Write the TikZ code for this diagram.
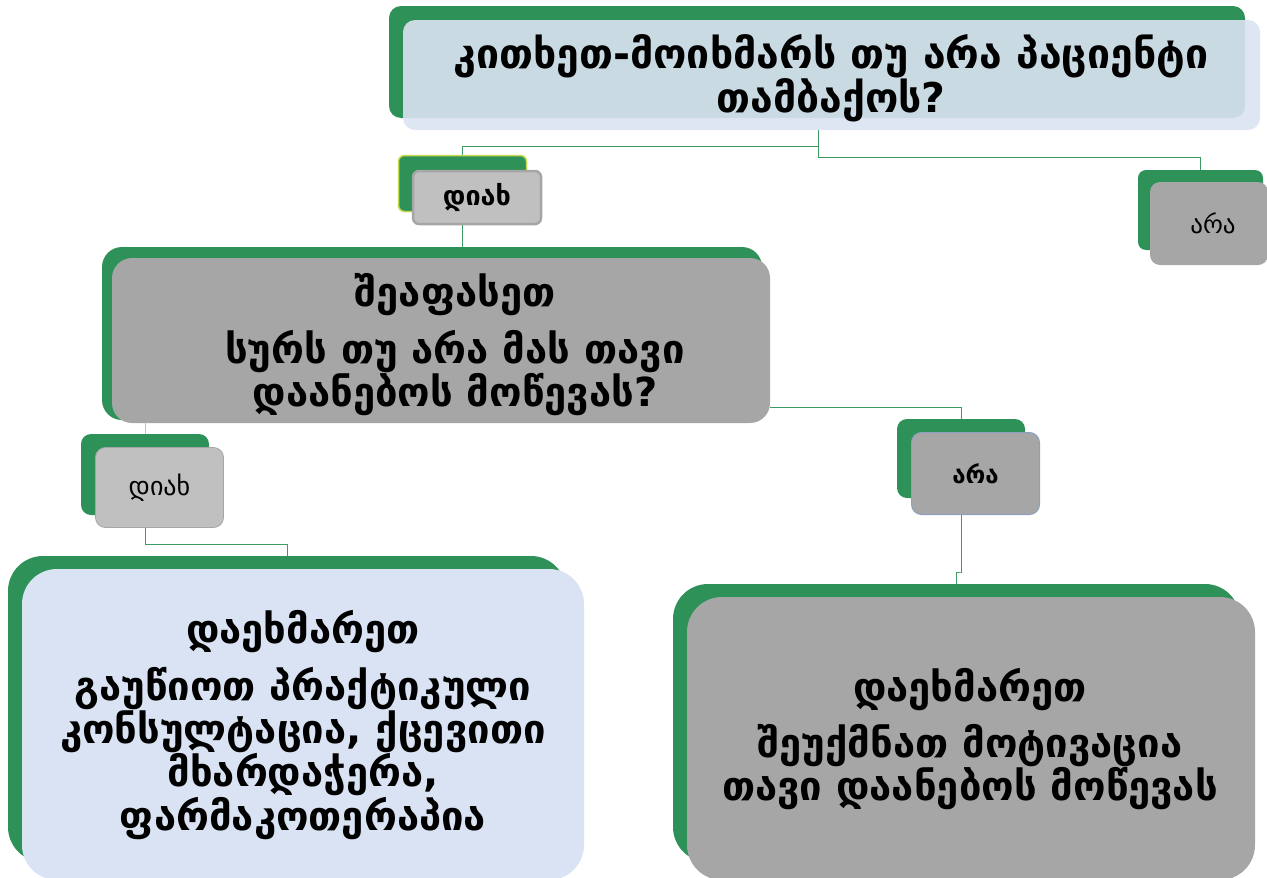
\documentclass[tikz,border=0pt]{standalone}
\usepackage{fontspec}
\setmainfont{DejaVu Sans}
\definecolor{G}{HTML}{2E9157}
\definecolor{LB}{HTML}{DCE3F2}
\definecolor{LB2}{HTML}{DAE3F3}
\definecolor{GR}{HTML}{A6A6A6}
\definecolor{LG}{HTML}{C0C0C0}
\definecolor{CN}{HTML}{3E9A62}
\definecolor{YL}{HTML}{C8D850}
\definecolor{BG}{HTML}{8EA0C0}
\begin{document}
\begin{tikzpicture}[x=1pt,y=-1pt,
  back/.style={fill=G,draw=none,inner sep=0pt},
  frontbox/.style={draw=none,inner sep=0pt,align=center,text=black},
  conn/.style={draw=CN,line width=0.9pt},
  big/.style={font=\fontsize{40}{38.5}\selectfont\bfseries}
]
\useasboundingbox (0,0) rectangle (1267,878);
% coordinates for connector joints
\coordinate (j1) at (818,146);
\coordinate (j2) at (818,157);
\coordinate (j3) at (770,407);
\coordinate (j4) at (962,572);
\coordinate (j5) at (145,544);

% top box
\node[back,rounded corners=12pt,minimum width=856pt,minimum height=112pt] (topb) at (817,62) {};
\node[frontbox,fill=LB,fill opacity=0.9,text opacity=1,rounded corners=12pt,minimum width=857pt,minimum height=110pt] (topf) at (831.5,75) {};
\node[align=center,font=\fontsize{41}{43}\selectfont\bfseries] (topt) at (831,78) {კითხეთ-მოიხმარს თუ არა პაციენტი\\თამბაქოს?};

% yes 1
\node[back,draw=YL,line width=1.5pt,rounded corners=6pt,minimum width=128pt,minimum height=56pt] (yes1b) at (462.5,183.5) {};
\node[frontbox,fill=LG,draw=GR,line width=2.5pt,rounded corners=6pt,minimum width=128pt,minimum height=53pt,font=\fontsize{27}{30}\selectfont\bfseries] (yes1f) at (477,197.5) {დიახ};

% no 1
\node[back,rounded corners=8pt,minimum width=125pt,minimum height=80pt] (no1b) at (1200.5,210) {};
\node[frontbox,fill=GR,rounded corners=10pt,minimum width=118pt,minimum height=83pt,font=\fontsize{25}{30}\selectfont] (no1f) at (1209,223.5) {\hspace*{8pt}არა};

% middle
\node[back,rounded corners=20pt,minimum width=660pt,minimum height=173pt] (midb) at (432,333.5) {};
\node[frontbox,fill=GR,rounded corners=20pt,minimum width=658pt,minimum height=165pt] (midf) at (441,340.5) {};
\node[big,align=center] (midt) at (455,345) {შეაფასეთ\\[13pt]სურს თუ არა მას თავი\\დაანებოს მოწევას?};

% yes 2
\node[back,rounded corners=10pt,minimum width=128pt,minimum height=81pt] (yes2b) at (145,474.5) {};
\node[frontbox,fill=LG,draw=GR,line width=0.8pt,rounded corners=10pt,minimum width=128pt,minimum height=80pt,font=\fontsize{26}{30}\selectfont] (yes2f) at (159.5,487.5) {დიახ};

% no 2
\node[back,rounded corners=10pt,minimum width=128pt,minimum height=79pt] (no2b) at (961,458.5) {};
\node[frontbox,fill=GR,draw=BG,line width=1pt,rounded corners=10pt,minimum width=128pt,minimum height=82pt,font=\fontsize{24}{30}\selectfont\bfseries] (no2f) at (975.5,473.5) {არა};

% bottom left
\node[back,rounded corners=35pt,minimum width=558pt,minimum height=306pt] (blb) at (287,709) {};
\node[frontbox,fill=LB2,rounded corners=35pt,minimum width=562pt,minimum height=311pt] (blf) at (303,724.5) {};
\node[big,align=center] (blt) at (303,725) {დაეხმარეთ\\[13pt]გაუწიოთ პრაქტიკული\\კონსულტაცია, ქცევითი\\მხარდაჭერა,\\ფარმაკოთერაპია};

% bottom right
\node[back,rounded corners=35pt,minimum width=567pt,minimum height=278pt] (brb) at (956.5,723) {};
\node[frontbox,fill=GR,rounded corners=35pt,minimum width=568pt,minimum height=283pt] (brf) at (971,738.5) {};
\node[big,align=center] (brt) at (970,739) {დაეხმარეთ\\[13pt]შეუქმნათ მოტივაცია\\თავი დაანებოს მოწევას};

% connectors
\draw[conn] (topf.south -| j1) -- (j1) -| (yes1b.north);
\draw[conn] (j1) -- (j2) -| (no1b.north);
\draw[conn] (yes1f.south -| yes1b) -- (midb.north -| yes1b);
\draw[conn] (midf.east |- j3) -| (no2b.north);
\draw[draw=YL,line width=0.9pt] (midf.south -| yes2b) -- (yes2b.north);
\draw[conn] (yes2f.south -| yes2b) -- (j5) -| (blb.north);
\draw[conn] (no2f.south -| no2b) |- (j4) -| (brb.north);
\end{tikzpicture}
\end{document}
